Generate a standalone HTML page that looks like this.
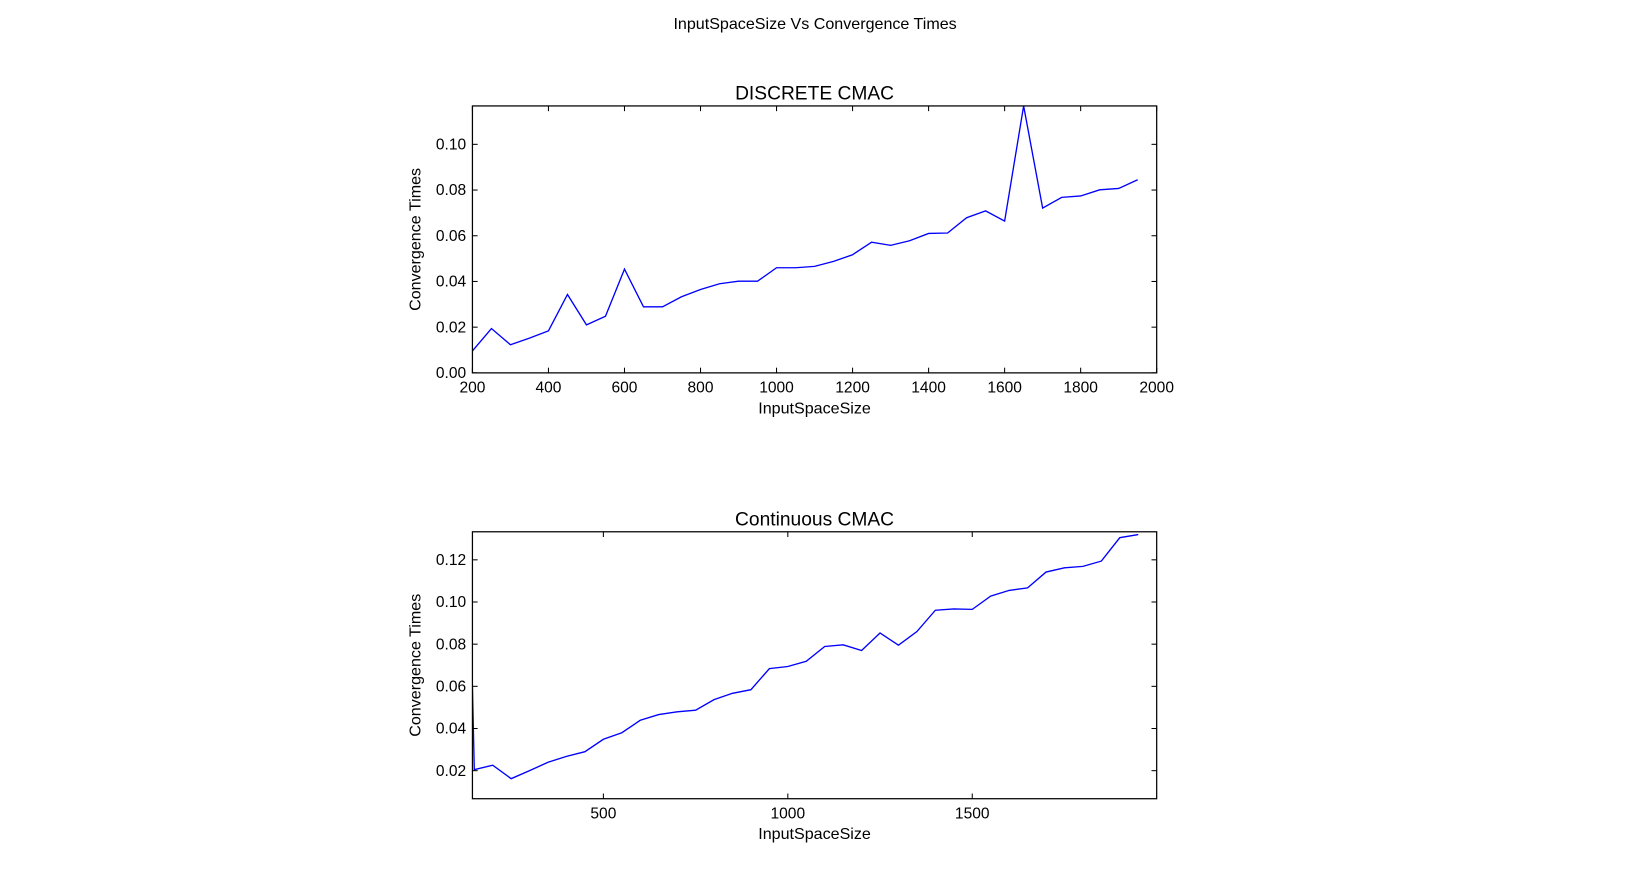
<!DOCTYPE html>
<html><head><meta charset="utf-8"><style>
body{margin:0;background:#fff;}
svg{display:block;font-family:"Liberation Sans","DejaVu Sans",sans-serif;}
</style></head><body>
<svg id="chart" width="1626" height="887" viewBox="0 0 1566 854" preserveAspectRatio="none">
<rect width="1566" height="854" fill="#fff"/>
<text x="785" y="28" font-size="15.5" text-anchor="middle">InputSpaceSize Vs Convergence Times</text>
<g id="top"></g>
<g id="bot"></g>
</svg>
<script>
const discreteX = [200,250,300,350,400,450,500,550,600,650,700,750,800,850,900,950,1000,1050,1100,1150,1200,1250,1300,1350,1400,1450,1500,1550,1600,1650,1700,1750,1800,1850,1900,1950];
const discreteY = [0.0096,0.0194,0.0123,0.0152,0.0184,0.0343,0.0210,0.0248,0.0454,0.0289,0.0289,0.0333,0.0365,0.0390,0.0401,0.0401,0.0460,0.0460,0.0466,0.0488,0.0517,0.0572,0.0558,0.0578,0.0610,0.0612,0.0679,0.0709,0.0664,0.1168,0.0721,0.0768,0.0774,0.0801,0.0807,0.0845];
const discreteXTicks = [200,400,600,800,1000,1200,1400,1600,1800,2000];
const discreteYTicks = [0.00,0.02,0.04,0.06,0.08,0.10];

const contX = [145,150,200,250,300,350,400,450,500,550,600,650,700,750,800,850,900,950,1000,1050,1100,1150,1200,1250,1300,1350,1400,1450,1500,1550,1600,1650,1700,1750,1800,1850,1900,1950];
const contY = [0.060,0.0205,0.0226,0.0162,0.0200,0.0240,0.0268,0.0290,0.0349,0.0380,0.0439,0.0466,0.0479,0.0487,0.0537,0.0567,0.0584,0.0684,0.0694,0.0719,0.0789,0.0797,0.0770,0.0853,0.0795,0.0860,0.0961,0.0967,0.0965,0.1028,0.1055,0.1067,0.1142,0.1162,0.1169,0.1194,0.1305,0.1320];
const contXTicks = [500,1000,1500];
const contYTicks = [0.02,0.04,0.06,0.08,0.10,0.12];

const NS = "http://www.w3.org/2000/svg";
function mk(parent, tag, attrs, text){
  const e = document.createElementNS(NS, tag);
  for (const k in attrs) e.setAttribute(k, attrs[k]);
  if (text !== undefined) e.textContent = text;
  parent.appendChild(e);
  return e;
}
function plot(gid, box, xd, yd, xs, ys, xt, yt, title, decimals){
  const g = document.getElementById(gid);
  const sx = v => box.l + (v - xd[0]) / (xd[1] - xd[0]) * (box.r - box.l);
  const sy = v => box.b - (v - yd[0]) / (yd[1] - yd[0]) * (box.b - box.t);
  const t = mk(g, 'text', {x:(box.l+box.r)/2, y:box.t-6, 'font-size':18.5, 'text-anchor':'middle'}, title);
  
  
  let d = '';
  xs.forEach((x,i)=>{ d += (i?'L':'M') + sx(x).toFixed(2) + ' ' + sy(ys[i]).toFixed(2); });
  const clip = gid + '-clip';
  const cp = mk(g, 'clipPath', {id:clip});
  mk(cp, 'rect', {x:box.l, y:box.t, width:box.r-box.l, height:box.b-box.t});
  const line = mk(g, 'path', {d:d, fill:'none', stroke:'#0000ff', 'stroke-width':1.3, 'clip-path':'url(#'+clip+')'});
  
  
  xt.forEach(v=>{
    const x = sx(v);
    mk(g, 'line', {x1:x, x2:x, y1:box.b, y2:box.b-5, stroke:'#000'});
    mk(g, 'line', {x1:x, x2:x, y1:box.t, y2:box.t+5, stroke:'#000'});
    const tl = mk(g, 'text', {x:x, y:box.b+19, 'font-size':15, 'text-anchor':'middle'}, String(v));
    
    
  });
  yt.forEach(v=>{
    const y = sy(v);
    mk(g, 'line', {x1:box.l, x2:box.l+5, y1:y, y2:y, stroke:'#000'});
    mk(g, 'line', {x1:box.r, x2:box.r-5, y1:y, y2:y, stroke:'#000'});
    const tl = mk(g, 'text', {x:box.l-6, y:y+5, 'font-size':15, 'text-anchor':'end'}, v.toFixed(decimals));
    
    
  });
  const fr = mk(g, 'rect', {x:box.l, y:box.t, width:box.r-box.l, height:box.b-box.t, fill:'none', stroke:'#000', 'stroke-width':1.2});
  
  
  const xl = mk(g, 'text', {x:(box.l+box.r)/2, y:box.b+39, 'font-size':15.5, 'text-anchor':'middle'}, 'InputSpaceSize');
  
  
  const cy = (box.t+box.b)/2;
  const yl = mk(g, 'text', {x:405, y:cy, 'font-size':15.5, 'text-anchor':'middle', transform:'rotate(-90 405 '+cy+')'}, 'Convergence Times');
  
  
}
plot('top', {l:455,r:1114,t:102,b:359}, [200,2000], [0,0.1168], discreteX, discreteY, discreteXTicks, discreteYTicks, 'DISCRETE CMAC', 2);
plot('bot', {l:455,r:1114,t:512,b:769}, [145,2000], [0.0067,0.1333], contX, contY, contXTicks, contYTicks, 'Continuous CMAC', 2);
</script>
</body></html>
